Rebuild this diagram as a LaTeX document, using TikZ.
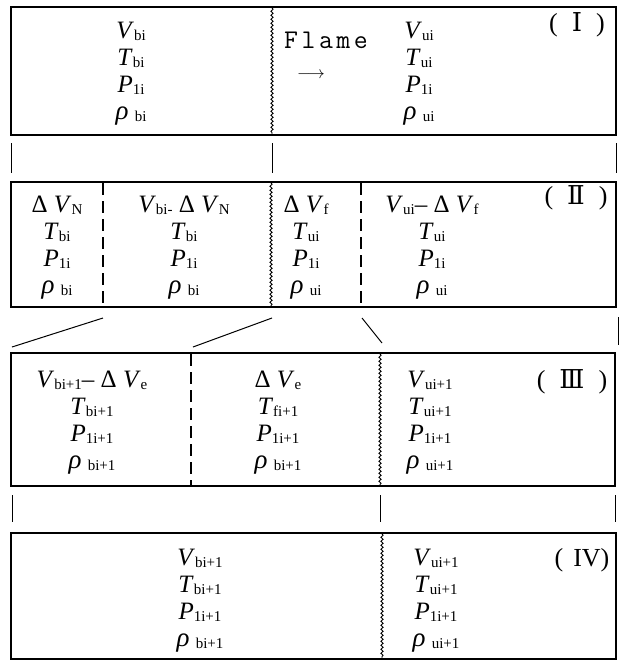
\documentclass[tikz,border=0pt]{standalone}
\usepackage{fontspec}
\setmainfont{Liberation Serif}
\newfontfamily\romanfont{DejaVu Serif}
\usetikzlibrary{decorations.pathmorphing}
\newcommand{\sbs}[1]{\raisebox{-1.5pt}{\fontsize{15}{15}\selectfont #1}}
\newcommand{\qv}[2]{\textit{#1}\sbs{#2}}
\newcommand{\rh}[1]{{\fontsize{27}{27}\selectfont\textit{ρ}}\ \sbs{#1}}

\begin{document}
\begin{tikzpicture}[x=1pt, y=-1pt,
  frame/.style={draw, line width=1.8pt},
  wavy/.style={line width=0.9pt, decorate, decoration={snake, amplitude=1.1pt, segment length=4pt}},
  seam/.style={line width=1.5pt, dash pattern=on 12pt off 6pt},
  link/.style={line width=1pt},
  vals/.style={align=center, font=\fontsize{25}{27}\selectfont, inner sep=0pt},
  tag/.style={font=\fontsize{26}{26}\selectfont, inner sep=0pt}
]
  \useasboundingbox (0,0) rectangle (621,662);
  % stage I
  \draw[frame] (11,7) rectangle (616,135);
  \draw[wavy] (272,8) -- (272,134);
  \node[vals] (bI) at (131,74) {\qv{V}{bi}\\\qv{T}{bi}\\\qv{P}{1i}\\\rh{bi}};
  \node[vals] (uI) at (419,74) {\qv{V}{ui}\\\qv{T}{ui}\\\qv{P}{1i}\\\rh{ui}};
  \node[font={\ttfamily\fontsize{27}{27}\selectfont}, inner sep=0pt] (flame) at (326,40) {F\kern3.5pt l\kern3.5pt a\kern3.5pt m\kern3.5pt e};
  \node[font=\fontsize{17}{17}\selectfont, inner sep=0pt] (flamedir) at (311,75) {$\longrightarrow$};
  \node[tag] (tagI) at (577,25) {(\hspace{14pt}{\romanfont Ⅰ}\hspace{14pt})};
  \coordinate (l1a) at (11,143);  \coordinate (l1b) at (11,173);
  \coordinate (l2a) at (272,143); \coordinate (l2b) at (272,173);
  \coordinate (l3a) at (616,143); \coordinate (l3b) at (616,173);
  \draw[link] (l1a) -- (l1b);
  \draw[link] (l2a) -- (l2b);
  \draw[link] (l3a) -- (l3b);
  % stage II
  \draw[frame] (11,182) rectangle (616,307);
  \draw[seam] (103,183) -- (103,306);
  \draw[wavy] (271,183) -- (271,306);
  \draw[seam] (361,183) -- (361,306);
  \node[vals] (nII) at (57,248) {Δ\ \qv{V}{N}\\\qv{T}{bi}\\\qv{P}{1i}\\\rh{bi}};
  \node[vals] (bII) at (184,248) {\qv{V}{bi-}\ Δ\ \qv{V}{N}\\\qv{T}{bi}\\\qv{P}{1i}\\\rh{bi}};
  \node[vals] (fII) at (306,248) {Δ\ \qv{V}{f}\\\qv{T}{ui}\\\qv{P}{1i}\\\rh{ui}};
  \node[vals] (uII) at (432,248) {\qv{V}{ui}– Δ\ \qv{V}{f}\\\qv{T}{ui}\\\qv{P}{1i}\\\rh{ui}};
  \node[tag] (tagII) at (576,198) {(\hspace{14pt}{\romanfont Ⅱ}\hspace{14pt})};
  \coordinate (d1a) at (103,318); \coordinate (d1b) at (12,347);
  \coordinate (d2a) at (272,318); \coordinate (d2b) at (193,347);
  \coordinate (d3a) at (362,318); \coordinate (d3b) at (382,343);
  \coordinate (d4a) at (618,317); \coordinate (d4b) at (618,345);
  \draw[link] (d1a) -- (d1b);
  \draw[link] (d2a) -- (d2b);
  \draw[link] (d3a) -- (d3b);
  \draw[link] (d4a) -- (d4b);
  % stage III
  \draw[frame] (11,353) rectangle (615,486);
  \draw[seam] (191,354) -- (191,485);
  \draw[wavy] (380,354) -- (380,485);
  \node[vals] (bIII) at (92,423) {\qv{V}{bi+1}– Δ\ \qv{V}{e}\\\qv{T}{bi+1}\\\qv{P}{1i+1}\\\rh{bi+1}};
  \node[vals] (eIII) at (278,423) {Δ\ \qv{V}{e}\\\qv{T}{fi+1}\\\qv{P}{1i+1}\\\rh{bi+1}};
  \node[vals] (uIII) at (430,423) {\qv{V}{ui+1}\\\qv{T}{ui+1}\\\qv{P}{1i+1}\\\rh{ui+1}};
  \node[tag] (tagIII) at (572,382) {(\hspace{14pt}{\romanfont Ⅲ}\hspace{14pt})};
  \coordinate (m1a) at (12,495);  \coordinate (m1b) at (12,522);
  \coordinate (m2a) at (380,495); \coordinate (m2b) at (380,522);
  \coordinate (m3a) at (615,495); \coordinate (m3b) at (615,522);
  \draw[link] (m1a) -- (m1b);
  \draw[link] (m2a) -- (m2b);
  \draw[link] (m3a) -- (m3b);
  % stage IV
  \draw[frame] (11,533) rectangle (616,659);
  \draw[wavy] (382,534) -- (382,658);
  \node[vals] (bIV) at (200,601) {\qv{V}{bi+1}\\\qv{T}{bi+1}\\\qv{P}{1i+1}\\\rh{bi+1}};
  \node[vals] (uIV) at (436,601) {\qv{V}{ui+1}\\\qv{T}{ui+1}\\\qv{P}{1i+1}\\\rh{ui+1}};
  \node[tag] (tagIV) at (582,560) {(\hspace{10pt}IV)};
\end{tikzpicture}
\end{document}
